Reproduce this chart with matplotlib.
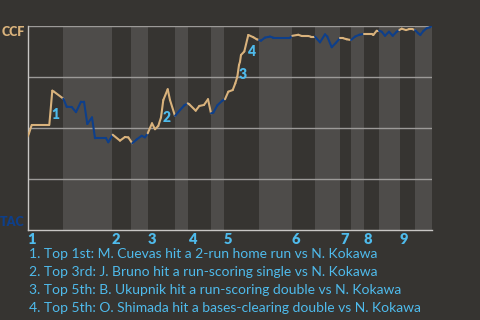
import matplotlib
matplotlib.use("Agg")
import matplotlib.pyplot as plt
from matplotlib.collections import LineCollection
import numpy as np

# game progress (play position) and CCF win probability
game_pos = [0, 1.5, 4.2, 21.8, 24.8, 26.5, 35.8, 39.2, 44.2, 48.5, 53.5, 56.5, 59.8,
            64.5, 67.5, 78.5, 80.8, 85.2, 92.5, 97.5, 100.8, 104.8, 109.2, 114.2,
            117.5, 120.2, 124.5, 127.5, 130.8, 133.5, 135.8, 140.2, 142.5, 147.5,
            152.5, 156.8, 160.2, 161.8, 168.2, 171.8, 176.5, 180.5, 183.5, 185.8,
            189.8, 194.8, 197.5, 200.8, 205.2, 207.8, 209.8, 211.5, 212.5, 213.5,
            216.8, 220.8, 225.8, 229.2, 231.5, 233.5, 237.5, 242.5, 245.8, 262.5,
            264.8, 270.8, 274.2, 280.8, 283.2, 287.5, 292.5, 297.5, 299.8, 304.2,
            308.5, 312.5, 315.8, 319.2, 323.5, 327.5, 331.8, 336.5, 344.2, 345.8,
            349.2, 351.5, 354.2, 357.5, 361.5, 365.2, 369.2, 371.8, 374.2, 378.5,
            381.8, 384.8, 387.5, 390.8, 392.8, 395.8, 399.2, 402.5, 404.5]
ccf_wp = [0.457, 0.474, 0.515, 0.515, 0.683, 0.678, 0.644, 0.604, 0.603, 0.578, 0.629,
          0.629, 0.520, 0.552, 0.450, 0.450, 0.430, 0.467, 0.438, 0.456, 0.454, 0.425,
          0.444, 0.462, 0.454, 0.474, 0.523, 0.494, 0.510, 0.552, 0.637, 0.690, 0.637,
          0.559, 0.588, 0.611, 0.621, 0.616, 0.585, 0.608, 0.613, 0.641, 0.572, 0.575,
          0.611, 0.634, 0.641, 0.678, 0.686, 0.719, 0.751, 0.809, 0.825, 0.858, 0.875,
          0.956, 0.945, 0.935, 0.931, 0.928, 0.943, 0.948, 0.943, 0.943, 0.952, 0.957,
          0.951, 0.951, 0.948, 0.948, 0.920, 0.959, 0.948, 0.896, 0.918, 0.940, 0.940,
          0.935, 0.931, 0.948, 0.957, 0.961, 0.961, 0.956, 0.977, 0.977, 0.972, 0.952,
          0.972, 0.952, 0.972, 0.980, 0.987, 0.980, 0.985, 0.985, 0.980, 0.964, 0.956,
          0.975, 0.989, 0.994, 1.0]

# half-inning starts (top, bottom, top, ...) and end of game
half_starts = [0, 35.5, 84.5, 103.5, 120.5, 147.5, 160.5, 183.5, 196.5, 231.5,
               264.5, 287.5, 312.5, 323.5, 336.5, 351.5, 372.5, 387.5]
game_end = 404.5
innings = ['1', '2', '3', '4', '5', '6', '7', '8', '9']

# key plays: index into the series and label offset (pixels)
event_idx = [4, 31, 53, 55]
event_off = [(3, -24), (-1, -28), (2, -20), (4, -17)]
event_text = [
    "1. Top 1st: M. Cuevas hit a 2-run home run vs N. Kokawa",
    "2. Top 3rd: J. Bruno hit a run-scoring single vs N. Kokawa",
    "3. Top 5th: B. Ukupnik hit a run-scoring double vs N. Kokawa",
    "4. Top 5th: O. Shimada hit a bases-clearing double vs N. Kokawa",
]

bg = '#363431'
band = '#4e4c4a'
tan = '#d9b27c'
navy = '#0e3f8a'
lblue = '#4fbbec'
font = 'Lato'

fig = plt.figure(figsize=(4.8, 3.2), dpi=100, facecolor=bg)
ax = fig.add_axes([27.5/480, 1-230/320, 404.5/480, 204/320])
ax.set_facecolor(bg)

ends = half_starts[1:] + [game_end]
for i, (s, e) in enumerate(zip(half_starts, ends)):
    if i % 2 == 1:
        ax.axvspan(s, e, color=band, lw=0, zorder=0)

for y in [0.25, 0.5, 0.75, 1.0]:
    ax.axhline(y, color='#9c9a98', lw=1, zorder=1)

# colour each segment by the team batting in that half
x = np.array(game_pos)
y = np.array(ccf_wp)
segs = np.stack([np.column_stack([x[:-1], y[:-1]]), np.column_stack([x[1:], y[1:]])], axis=1)
mids = (x[:-1] + x[1:]) / 2
half = np.searchsorted(half_starts, mids, side='right') - 1
cols = [tan if h % 2 == 0 else navy for h in half]
ax.add_collection(LineCollection(segs, colors=cols, lw=1.5, zorder=3, capstyle='round'))

for n, (i, off) in enumerate(zip(event_idx, event_off)):
    ax.annotate(str(n + 1), (game_pos[i], ccf_wp[i]), xytext=off, textcoords='offset pixels',
                ha='center', va='center', color=lblue, fontsize=10, fontweight='heavy',
                family=font, zorder=4)

ax.set_xlim(0, game_end)
ax.set_ylim(0, 1)
for s in ['top', 'right']:
    ax.spines[s].set_visible(False)
for s in ['left', 'bottom']:
    ax.spines[s].set_color('#c8c6c4')
    ax.spines[s].set_linewidth(1)
ax.set_yticks([])
ax.set_xticks(half_starts[::2])
ax.set_xticklabels(innings, color=lblue, fontsize=10.5, fontweight='heavy', family=font, ha='left')
ax.tick_params(axis='x', length=0, pad=2)

fig.text(24.5/480, 1 - 32.5/320, 'CCF', ha='right', va='center',
         color=tan, fontsize=9, fontweight='heavy', family=font)
fig.text(24.5/480, 1 - 221.5/320, 'TAC', ha='right', va='center',
         color=navy, fontsize=9, fontweight='heavy', family=font)

for k, t in enumerate(event_text):
    fig.text(29/480, 1 - (254.3 + 17.8*k)/320, t, ha='left', va='center',
             color=lblue, fontsize=10, family=font)

fig.savefig('out.png', dpi=100, facecolor=bg)
